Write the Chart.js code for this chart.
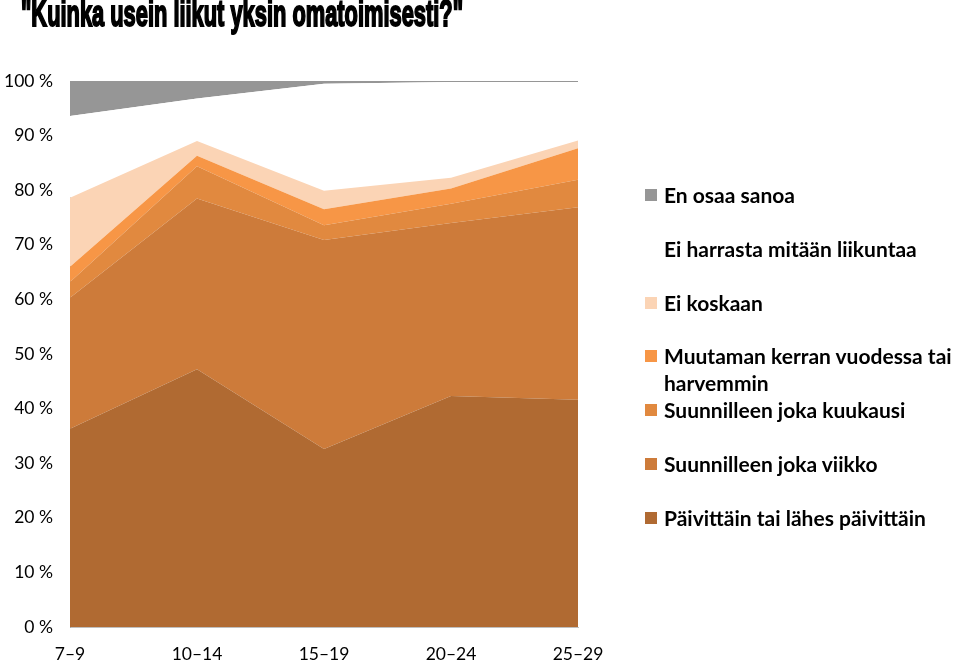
<!DOCTYPE html>
<html>
<head>
<meta charset="utf-8">
<script src="https://cdn.jsdelivr.net/npm/chart.js@4.4.0/dist/chart.umd.min.js"></script>
<style>
    html, body { margin: 0; padding: 0; background: #fff; }
    #wrap { position: relative; width: 960px; height: 663px; overflow: hidden; }
    #title {
        position: absolute; left: 21px; top: -7px; white-space: nowrap;
        font-family: "Liberation Sans", Arial, sans-serif; font-weight: bold; font-size: 36px;
        -webkit-text-stroke: 2px #000; color: #000; transform-origin: 0 0;
    }
    #legend { position: absolute; left: 645px; top: 181px; width: 315px; }
    .lg-item { position: relative; padding-left: 19px; height: 53.8px;
        font-family: Lato, "Open Sans", sans-serif; font-weight: bold; font-size: 21px; line-height: 27px; color: #000; white-space: nowrap; }
    .lg-box { position: absolute; left: 0; top: 8px; width: 12px; height: 12px; }
</style>
</head>
<body>
<div id="wrap">
    <canvas id="areaChart" width="960" height="663"></canvas>
    <div id="title">"Kuinka usein liikut yksin omatoimisesti?"</div>
    <div id="legend"></div>
</div>
<script>
    // ikaryhmat
    var categories = ['7\u20139', '10\u201314', '15\u201319', '20\u201324', '25\u201329'];

    // osuudet (%), alimmasta kerroksesta ylimpaan
    var paivittain = [36.3, 47.2, 32.6, 42.3, 41.6];
    var viikko = [24.0, 31.3, 38.3, 31.7, 35.3];
    var kuukausi = [2.9, 5.9, 2.7, 3.5, 5.0];
    var muutaman = [2.8, 1.9, 2.9, 2.8, 5.8];
    var eiKoskaan = [12.6, 2.7, 3.4, 2.0, 1.4];
    var eiHarrasta = [15.0, 7.8, 19.6, 17.5, 10.7];
    var enOsaa = [6.4, 3.2, 0.5, 0.2, 0.2];

    var yTicks = [0, 10, 20, 30, 40, 50, 60, 70, 80, 90, 100];

    function layer(label, data, color, fill, legendLabel) {
        return {
            label: label,
            legendLabel: legendLabel || [label],
            data: data,
            backgroundColor: color,
            borderWidth: 0,
            pointRadius: 0,
            pointHoverRadius: 0,
            tension: 0,
            fill: fill,
        };
    }

    var datasets = [
        layer('Päivittäin tai lähes päivittäin', paivittain, '#B06A32', 'origin'),
        layer('Suunnilleen joka viikko', viikko, '#CD7B3A', '-1'),
        layer('Suunnilleen joka kuukausi', kuukausi, '#E1893F', '-1'),
        layer('Muutaman kerran vuodessa tai harvemmin', muutaman, '#F79646', '-1',
            ['Muutaman kerran vuodessa tai', 'harvemmin']),
        layer('Ei koskaan', eiKoskaan, '#FBD4B5', '-1'),
        layer('Ei harrasta mitään liikuntaa', eiHarrasta, '#FFFFFF', '-1'),
        layer('En osaa sanoa', enOsaa, '#969696', '-1'),
    ];

    var ctx = document.getElementById('areaChart');
    var areaChart = new Chart(ctx, {
        type: 'line',
        data: {
            labels: categories,
            datasets: datasets,
        },
        options: {
            responsive: false,
            animation: false,
            layout: {
                padding: { top: 81, right: 382, bottom: 0, left: 0 },
            },
            plugins: {
                legend: { display: false },
                tooltip: { enabled: false },
            },
            scales: {
                x: {
                    offset: false,
                    grid: { display: false, drawTicks: false },
                    border: { color: '#BFBFBF', width: 1 },
                    ticks: {
                        padding: 17,
                        color: '#000',
                        maxRotation: 0,
                        font: { family: 'Lato, "Open Sans", sans-serif', size: 17.5 },
                    },
                    afterFit: function (scale) { scale.height = 36; },
                },
                y: {
                    stacked: true,
                    min: 0,
                    max: 100,
                    grid: { display: false, drawTicks: false },
                    border: { color: '#A6A6A6', width: 1 },
                    afterBuildTicks: function (scale) {
                        scale.ticks = yTicks.map(function (v) { return { value: v }; });
                    },
                    ticks: {
                        padding: 17,
                        color: '#000',
                        font: { family: 'Lato, "Open Sans", sans-serif', size: 17.5 },
                        callback: function (v) { return v + ' %'; },
                    },
                    afterFit: function (scale) { scale.width = 70; },
                },
            },
        },
    });

    // legenda oikealle, ylin kerros ensin
    var legendEl = document.getElementById('legend');
    areaChart.data.datasets.slice().reverse().forEach(function (ds) {
        var item = document.createElement('div');
        item.className = 'lg-item';
        var box = document.createElement('span');
        box.className = 'lg-box';
        box.style.background = ds.backgroundColor;
        item.appendChild(box);
        item.appendChild(document.createTextNode(ds.legendLabel[0]));
        for (var i = 1; i < ds.legendLabel.length; i++) {
            item.appendChild(document.createElement('br'));
            item.appendChild(document.createTextNode(ds.legendLabel[i]));
        }
        legendEl.appendChild(item);
    });

    // otsikko kapeammaksi kuten alkuperaisessa
    var titleEl = document.getElementById('title');
    var w = titleEl.getBoundingClientRect().width;
    titleEl.style.transform = 'scale(' + (442 / w) + ', 1)';
</script>
</body>
</html>
